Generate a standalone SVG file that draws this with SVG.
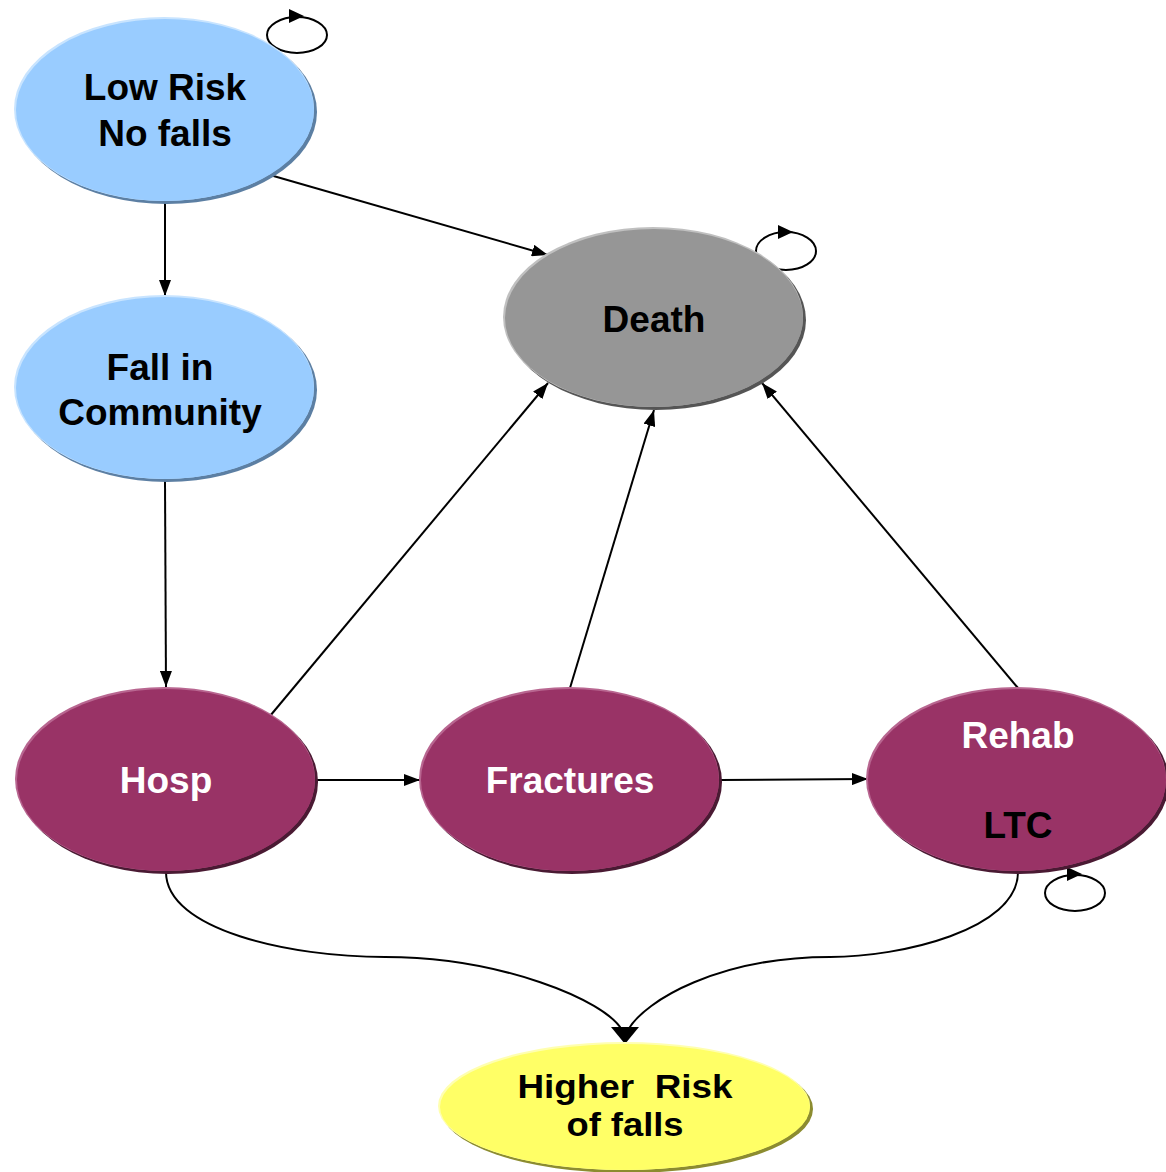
<svg xmlns="http://www.w3.org/2000/svg" width="1166" height="1172" viewBox="0 0 1166 1172">
<style>
.t{font-family:"Liberation Sans",Arial,sans-serif;font-weight:bold;font-size:37px;text-anchor:middle}
.s{font-size:34px}
.w{fill:#ffffff}
.k{fill:#000000}
.c{fill:none;stroke:#000;stroke-width:2}
.blue{fill:#99CCFF}
.gray{fill:#969696}
.mar{fill:#993366}
.yel{fill:#FFFF66}
</style>
<defs>
<marker id="ah" viewBox="0 0 16 12" refX="16" refY="6" markerWidth="16" markerHeight="12" markerUnits="userSpaceOnUse" orient="auto">
<path d="M0,0 L16,6 L0,12 Z" fill="#000"/>
</marker>
</defs>
<rect width="1166" height="1172" fill="#fff"/>
<g id="connectors">
<line class="c" x1="270" y1="175" x2="548" y2="255" marker-end="url(#ah)"/>
<line class="c" x1="165" y1="202" x2="165" y2="296" marker-end="url(#ah)"/>
<line class="c" x1="165" y1="481" x2="166" y2="687" marker-end="url(#ah)"/>
<line class="c" x1="270" y1="716" x2="548" y2="383" marker-end="url(#ah)"/>
<line class="c" x1="570" y1="688" x2="654" y2="410" marker-end="url(#ah)"/>
<line class="c" x1="1018" y1="688" x2="762" y2="383" marker-end="url(#ah)"/>
<line class="c" x1="316" y1="780" x2="420" y2="780" marker-end="url(#ah)"/>
<line class="c" x1="720" y1="780" x2="868" y2="779" marker-end="url(#ah)"/>
<path class="c" d="M166,872 C166,930 290,957 385,957 C500,957 605,1000 622,1030"/>
<path class="c" d="M1018,872 C1018,930 900,957 830,957 C720,957 645,1000 628,1030"/>
<path d="M611,1027 L639,1027 L625,1044 Z" fill="#000"/>
<ellipse class="c" cx="297" cy="35" rx="30" ry="18"/>
<path d="M289,9 L304,16 L289,23 Z" fill="#000"/>
<ellipse class="c" cx="786" cy="251" rx="30" ry="19"/>
<path d="M778,225 L793,232 L778,239 Z" fill="#000"/>
<ellipse class="c" cx="1075" cy="893" rx="30" ry="18"/>
<path d="M1067,867 L1082,874 L1067,881 Z" fill="#000"/>
</g>
<g id="lowrisk">
<ellipse cx="167" cy="112" rx="150" ry="92" fill="#5C7FA3"/>
<ellipse cx="164" cy="109" rx="150" ry="92" fill="#C8E4FF"/>
<ellipse class="blue" cx="165" cy="110" rx="149" ry="91"/>
<text class="t k" x="165" y="100">Low Risk</text>
<text class="t k" x="165" y="146">No falls</text>
</g>
<g id="fall">
<ellipse cx="167" cy="390" rx="150" ry="92" fill="#5C7FA3"/>
<ellipse cx="164" cy="387" rx="150" ry="92" fill="#C8E4FF"/>
<ellipse class="blue" cx="165" cy="388" rx="149" ry="91"/>
<text class="t k" x="160" y="380">Fall in</text>
<text class="t k" x="160" y="425">Community</text>
</g>
<g id="death">
<ellipse cx="656" cy="320" rx="150" ry="90" fill="#555"/>
<ellipse cx="653" cy="317" rx="150" ry="90" fill="#C0C0C0"/>
<ellipse class="gray" cx="654" cy="318" rx="149" ry="89"/>
<text class="t k" x="654" y="332">Death</text>
</g>
<g id="hosp">
<ellipse cx="168" cy="782" rx="150" ry="92" fill="#4A1A33"/>
<ellipse cx="165" cy="779" rx="150" ry="92" fill="#B86690"/>
<ellipse class="mar" cx="166" cy="780" rx="149" ry="91"/>
<text class="t w" x="166" y="793">Hosp</text>
</g>
<g id="fractures">
<ellipse cx="572" cy="782" rx="150" ry="92" fill="#4A1A33"/>
<ellipse cx="569" cy="779" rx="150" ry="92" fill="#B86690"/>
<ellipse class="mar" cx="570" cy="780" rx="149" ry="91"/>
<text class="t w" x="570" y="793">Fractures</text>
</g>
<g id="rehab">
<ellipse cx="1019" cy="782" rx="150" ry="92" fill="#4A1A33"/>
<ellipse cx="1016" cy="779" rx="150" ry="92" fill="#B86690"/>
<ellipse class="mar" cx="1017" cy="780" rx="149" ry="91"/>
<text class="t w" x="1018" y="748">Rehab</text>
<text class="t k" x="1018" y="838">LTC</text>
</g>
<g id="higher">
<ellipse cx="627" cy="1109" rx="186" ry="64" fill="#8C8C30"/>
<ellipse cx="624" cy="1106" rx="186" ry="64" fill="#FFFFB0"/>
<ellipse class="yel" cx="625" cy="1107" rx="185" ry="63"/>
<text class="t s k" x="625" y="1098" xml:space="preserve" textLength="215" lengthAdjust="spacingAndGlyphs">Higher  Risk</text>
<text class="t s k" x="625" y="1136" textLength="117" lengthAdjust="spacingAndGlyphs">of falls</text>
</g>
</svg>
